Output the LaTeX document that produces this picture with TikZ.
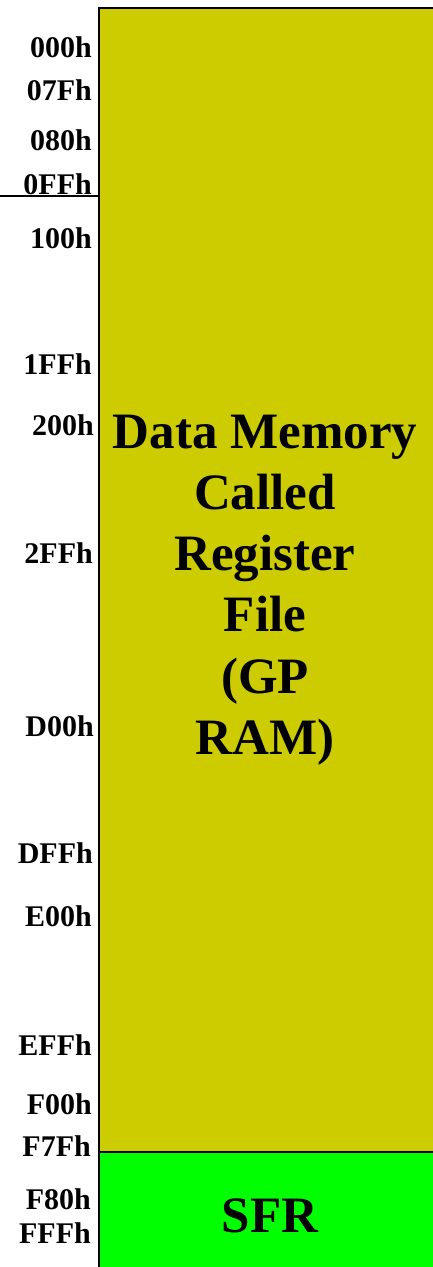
\documentclass[tikz,border=0pt]{standalone}
\usepackage{fontspec}
\setmainfont{Liberation Serif}
\definecolor{ramyellow}{RGB}{204,204,0}
\definecolor{sfrgreen}{RGB}{0,255,0}
\tikzset{
  addr/.style={anchor=east, inner sep=0pt, font=\fontsize{30}{30}\selectfont\bfseries},
  bigtext/.style={align=center, inner sep=0pt, font=\fontsize{51}{61.2}\selectfont\bfseries},
  border/.style={line width=2.2pt, draw=black}
}
\begin{document}
\begin{tikzpicture}[x=1pt,y=-1pt]
\useasboundingbox (0,0) rectangle (433,1267);
\begin{scope}
\clip (0,0) rectangle (433,1267);
\fill[ramyellow] (99,8) rectangle (440,1152);
\fill[sfrgreen] (99,1152) rectangle (440,1275);
\draw[border] (440,8) -- (99,8) -- (99,1275);
\draw[border] (99,1152) -- (440,1152);
\draw[border] (0,196) -- (99,196);
\end{scope}
\node[bigtext] (gpram) at (265,590) {Data Memory\\Called\\Register\\File\\(GP\\RAM)};
\node[bigtext] (sfr) at (270,1216) {SFR};
\node[addr] (a000) at (92,47) {000h};
\node[addr] (a07F) at (92,90) {07Fh};
\node[addr] (a080) at (92,140) {080h};
\node[addr] (a0FF) at (92,184) {0FFh};
\node[addr] (a100) at (92,238) {100h};
\node[addr] (a1FF) at (92,364) {1FFh};
\node[addr] (a200) at (94,425) {200h};
\node[addr] (a2FF) at (93,553) {2FFh};
\node[addr] (aD00) at (94,726) {D00h};
\node[addr] (aDFF) at (93,853) {DFFh};
\node[addr] (aE00) at (92,916) {E00h};
\node[addr] (aEFF) at (92,1045) {EFFh};
\node[addr] (aF00) at (92,1104) {F00h};
\node[addr] (aF7F) at (91,1146) {F7Fh};
\node[addr] (aF80) at (91,1199) {F80h};
\node[addr] (aFFF) at (91,1233) {FFFh};
\end{tikzpicture}
\end{document}
